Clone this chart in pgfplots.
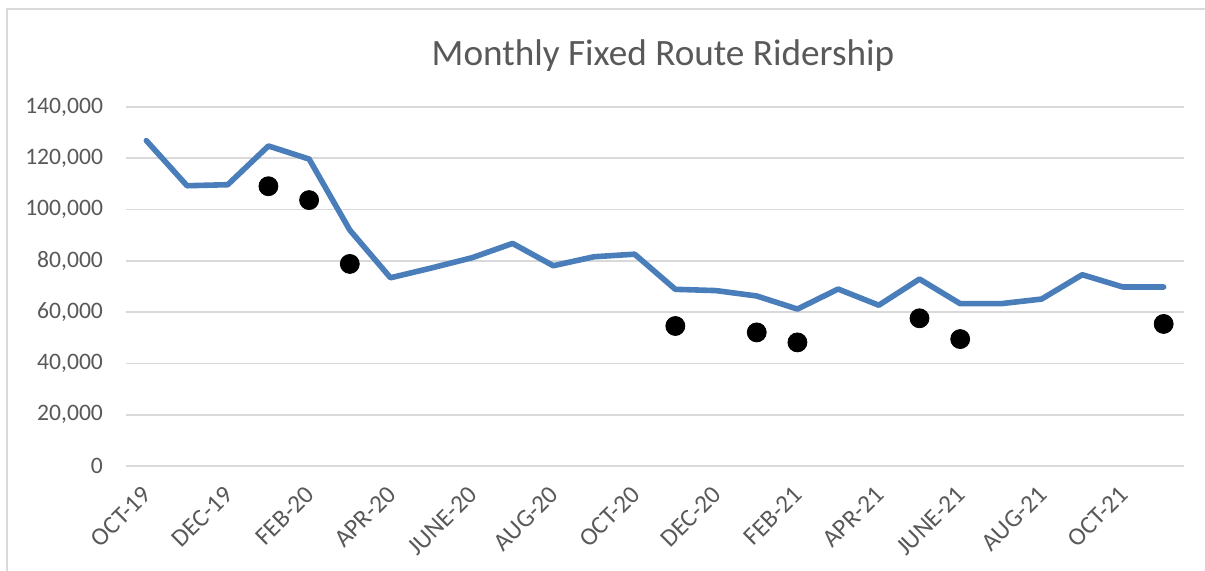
\documentclass[border=0pt]{standalone}
\usepackage{pgfplots}
\pgfplotsset{compat=1.18}
\usepackage{fontspec}
\setmainfont{Carlito}
\definecolor{gridc}{HTML}{D9D9D9}
\definecolor{txt}{HTML}{595959}
\definecolor{lineblue}{HTML}{4A7EBB}
\begin{document}
\begin{tikzpicture}
\path[use as bounding box] (0,0) rectangle (602.5pt,-285.5pt);
\fill[white] (0,0) rectangle (602.5pt,-285.5pt);
\draw[gridc, line width=1pt] (3.4pt,-285.5pt) -- (3.4pt,-4.4pt) -- (602.5pt,-4.4pt);
\begin{axis}[
  at={(63pt,-233pt)}, anchor=south west,
  scale only axis, width=529pt, height=179.5pt,
  xmin=-0.5, xmax=25.5, ymin=0, ymax=140000,
  axis line style={draw=none},
  major tick length=0pt,
  ytick={0,20000,...,140000},
  ymajorgrids, grid style={gridc, line width=0.9pt},
  xtick={0,2,...,24},
  xticklabels={OCT-19,DEC-19,FEB-20,APR-20,JUNE-20,AUG-20,OCT-20,DEC-20,FEB-21,APR-21,JUNE-21,AUG-21,OCT-21},
  x tick label style={xshift=-2.5pt, yshift=-9pt, rotate=45, anchor=north east, inner sep=0pt, font=\fontsize{12.6}{14}\selectfont, text=txt},
  y tick label style={font=\fontsize{11.8}{14}\selectfont, text=txt, xshift=-8pt},
  scaled y ticks=false,
  /pgf/number format/.cd, fixed, 1000 sep={,}, assume math mode=true,
  /pgfplots/.cd,
  clip=false,
]
\addplot[lineblue, line width=2.8pt, line join=round, line cap=round, mark=none] coordinates {
(0,126900) (1,109300) (2,109700) (3,124800) (4,119700) (5,92000) (6,73400)
(7,77200) (8,81200) (9,86800) (10,78100) (11,81600) (12,82600) (13,68900)
(14,68400) (15,66300) (16,61200) (17,69000) (18,62700) (19,72900) (20,63300)
(21,63300) (22,65100) (23,74600) (24,69800) (25,69800)
};
\addplot[only marks, mark=*, mark size=4.75pt, black] coordinates {
(3,109100) (4,103700) (5,78800) (13,54600) (15,52100) (16,48200) (19,57600) (20,49500) (25,55400)
};
\end{axis}
\node[text=txt, font=\fontsize{18.6}{22}\selectfont] at (331.5pt,-28pt) {Monthly Fixed Route Ridership};
\end{tikzpicture}
\end{document}
